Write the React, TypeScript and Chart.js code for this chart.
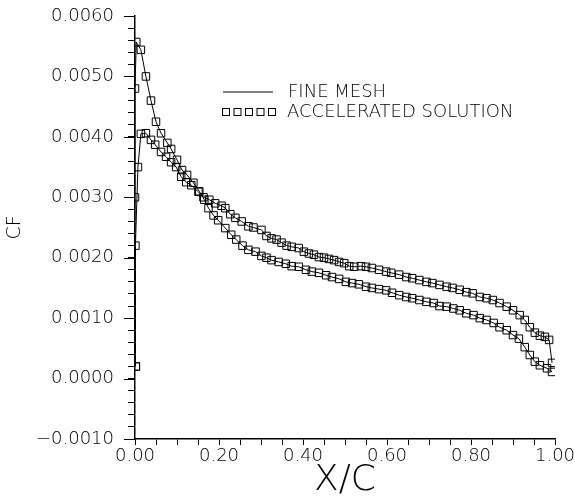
import React, { useEffect, useRef } from "react";
import { Chart, registerables } from "chart.js";

Chart.register(...registerables);

// Curve with the high leading-edge peak (falls faster, ends lower)
const xSteep = [
  0.002, 0.0, 0.0, 0.003, 0.014, 0.026, 0.038, 0.05, 0.062, 0.077, 0.086, 0.1, 0.112, 0.124, 0.139, 0.153,
  0.165, 0.175, 0.187, 0.198, 0.215, 0.229, 0.241, 0.256, 0.27, 0.287, 0.301, 0.313, 0.325, 0.342, 0.359,
  0.373, 0.39, 0.407, 0.421, 0.438, 0.455, 0.469, 0.486, 0.502, 0.517, 0.533, 0.55, 0.564, 0.581, 0.598,
  0.612, 0.629, 0.646, 0.66, 0.677, 0.694, 0.711, 0.725, 0.742, 0.758, 0.773, 0.789, 0.806, 0.821, 0.837,
  0.854, 0.868, 0.885, 0.9, 0.914, 0.928, 0.94, 0.952, 0.964, 0.981, 0.993,
];
const cfSteep = [
  0.0002, 0.003, 0.0048, 0.00557, 0.00544, 0.005, 0.0046, 0.00425, 0.00406, 0.0039, 0.0038, 0.00362, 0.00345,
  0.00337, 0.00324, 0.0031, 0.00296, 0.00282, 0.0027, 0.00262, 0.00249, 0.00238, 0.0023, 0.0022, 0.00213,
  0.0021, 0.00203, 0.002, 0.00196, 0.00193, 0.0019, 0.00186, 0.00185, 0.0018, 0.00177, 0.00175, 0.00171,
  0.00168, 0.00165, 0.0016, 0.00158, 0.00156, 0.00152, 0.0015, 0.00148, 0.00146, 0.00142, 0.00138, 0.00135,
  0.00133, 0.0013, 0.00127, 0.00125, 0.0012, 0.00119, 0.00116, 0.00113, 0.00108, 0.00105, 0.001, 0.00097,
  0.00092, 0.00085, 0.0008, 0.00072, 0.00066, 0.00052, 0.00039, 0.00028, 0.00022, 0.00017, 0.00011,
];

// Curve with the lower leading-edge peak (flatter, ends higher)
const xFlat = [
  0.002, 0.001, 0.007, 0.014, 0.026, 0.038, 0.048, 0.062, 0.074, 0.086, 0.098, 0.11, 0.122, 0.134, 0.151,
  0.163, 0.177, 0.191, 0.206, 0.215, 0.227, 0.239, 0.254, 0.27, 0.282, 0.301, 0.313, 0.325, 0.337, 0.349,
  0.361, 0.373, 0.39, 0.402, 0.414, 0.426, 0.438, 0.45, 0.462, 0.474, 0.486, 0.498, 0.51, 0.522, 0.538, 0.55,
  0.564, 0.581, 0.598, 0.61, 0.629, 0.646, 0.66, 0.677, 0.694, 0.708, 0.725, 0.742, 0.756, 0.773, 0.789,
  0.804, 0.821, 0.837, 0.852, 0.868, 0.885, 0.9, 0.916, 0.928, 0.94, 0.952, 0.964, 0.976, 0.986, 0.993,
];
const cfFlat = [
  0.0002, 0.0022, 0.0035, 0.00405, 0.00406, 0.00395, 0.00387, 0.00375, 0.00367, 0.00358, 0.0035, 0.00334,
  0.00325, 0.0032, 0.00309, 0.003, 0.00296, 0.0029, 0.00286, 0.00282, 0.00272, 0.00266, 0.0026, 0.00252,
  0.0025, 0.00246, 0.00236, 0.00232, 0.0023, 0.00225, 0.0022, 0.00218, 0.00216, 0.0021, 0.00207, 0.00205,
  0.00201, 0.002, 0.00198, 0.00196, 0.00193, 0.00191, 0.00186, 0.00185, 0.00186, 0.00185, 0.00183, 0.0018,
  0.00177, 0.00175, 0.00172, 0.00168, 0.00166, 0.00163, 0.0016, 0.00158, 0.00155, 0.00152, 0.0015, 0.00147,
  0.00143, 0.00141, 0.00135, 0.00133, 0.0013, 0.00125, 0.00119, 0.00113, 0.00105, 0.00097, 0.00085, 0.00076,
  0.00071, 0.00069, 0.00064, 0.00026,
];

const legendLabels = ["FINE MESH", "ACCELERATED SOLUTION"];
const xTitle = "X/C";
const yTitle = "CF";

const FONT = "'DejaVu Sans', sans-serif";
const WEIGHT = 200;
const INK = "#000";

const near = (v: number, step: number) => Math.abs(v / step - Math.round(v / step)) < 1e-6;

const legendPlugin = {
  id: "customLegend",
  afterDraw(chart: any) {
    const { ctx, chartArea } = chart;
    const x0 = chartArea.left + 88;
    const row1 = 92;
    const row2 = 112;
    ctx.save();
    ctx.strokeStyle = INK;
    ctx.lineWidth = 1;
    ctx.beginPath();
    ctx.moveTo(x0, row1);
    ctx.lineTo(x0 + 50, row1);
    ctx.stroke();
    for (let i = 0; i < 5; i++) {
      const cx = x0 + 3 + i * 11.5;
      ctx.strokeRect(cx - 3.5, row2 - 3.5, 7, 7);
    }
    ctx.fillStyle = INK;
    ctx.font = `${WEIGHT} 18px ${FONT}`;
    ctx.textBaseline = "middle";
    ctx.textAlign = "left";
    ctx.fillText(legendLabels[0], x0 + 65, row1);
    ctx.fillText(legendLabels[1], x0 + 64, row2);

    // longer marks at the labelled y ticks
    const y = chart.scales.y;
    ctx.beginPath();
    y.ticks.forEach((t: any) => {
      if (near(t.value, 0.001)) {
        const py = Math.round(y.getPixelForValue(t.value)) + 0.5;
        ctx.moveTo(y.right - 11, py);
        ctx.lineTo(y.right, py);
      }
    });
    ctx.stroke();
    ctx.restore();
  },
};

export default function App() {
  const ref = useRef<HTMLCanvasElement | null>(null);

  useEffect(() => {
    if (!ref.current) return;
    const mk = (xs: number[], ys: number[]) => xs.map((x, i) => ({ x, y: ys[i] }));
    const common = {
      borderColor: INK,
      borderWidth: 1,
      backgroundColor: "rgba(0,0,0,0)",
      pointStyle: "rect" as const,
      pointRadius: 5.3,
      pointBorderWidth: 1,
      pointBorderColor: INK,
      pointBackgroundColor: "rgba(0,0,0,0)",
      showLine: true,
      tension: 0,
      fill: false,
    };
    const chart = new Chart(ref.current, {
      type: "scatter",
      data: {
        datasets: [
          { label: "steep", data: mk(xSteep, cfSteep), ...common },
          { label: "flat", data: mk(xFlat, cfFlat), ...common },
        ],
      },
      options: {
        responsive: false,
        animation: false,
        devicePixelRatio: 1,
        layout: { padding: { left: 0, right: 20, top: 16, bottom: 0 } },
        plugins: { legend: { display: false }, tooltip: { enabled: false } },
        scales: {
          x: {
            type: "linear",
            min: 0,
            max: 1,
            ticks: {
              stepSize: 0.05,
              autoSkip: false,
              maxRotation: 0,
              padding: 1,
              color: INK,
              font: { family: FONT, size: 18, weight: WEIGHT },
              callback: (v: any) => (near(Number(v), 0.2) ? Number(v).toFixed(2) : ""),
            },
            grid: { display: true, drawOnChartArea: false, drawTicks: true, tickLength: 6, color: INK, lineWidth: 1 },
            border: { display: true, color: INK, width: 1.5 },
            title: {
              display: true,
              text: xTitle,
              color: INK,
              font: { family: FONT, size: 36, weight: WEIGHT, lineHeight: 1 },
              padding: { top: 0, bottom: 2 },
            },
            afterFit: (s: any) => {
              s.height = 62;
              s.paddingLeft = 0;
              s.paddingRight = 0;
            },
          },
          y: {
            type: "linear",
            min: -0.001,
            max: 0.006,
            ticks: {
              stepSize: 0.0002,
              autoSkip: false,
              padding: 14,
              color: INK,
              font: { family: FONT, size: 18, weight: WEIGHT },
              callback: (v: any) => {
                const n = Number(v);
                if (!near(n, 0.001)) return "";
                const s = Math.abs(n).toFixed(4);
                return n < -1e-9 ? "\u2212" + s : s;
              },
            },
            grid: { display: true, drawOnChartArea: false, drawTicks: true, tickLength: 7, color: INK, lineWidth: 1 },
            border: { display: true, color: INK, width: 1.5 },
            title: {
              display: true,
              text: yTitle,
              color: INK,
              font: { family: FONT, size: 19, weight: WEIGHT, lineHeight: 1.2 },
              padding: { top: 4, bottom: 0 },
            },
            afterFit: (s: any) => {
              s.width = 135;
              s.paddingTop = 0;
              s.paddingBottom = 0;
            },
          },
        },
      },
      plugins: [legendPlugin],
    });
    return () => chart.destroy();
  }, []);

  return (
    <div style={{ position: "absolute", left: 0, top: 0, width: 575, height: 501, background: "#fff" }}>
      <canvas ref={ref} width={575} height={501} style={{ display: "block" }} />
    </div>
  );
}
